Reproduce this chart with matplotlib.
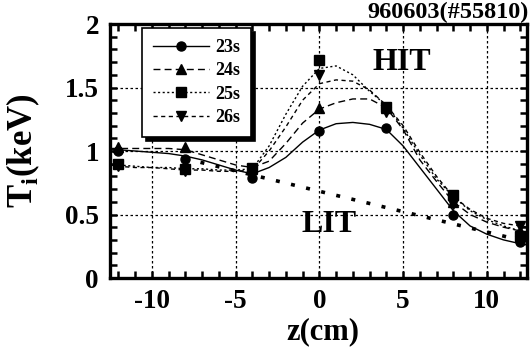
import matplotlib
matplotlib.use("Agg")
import matplotlib.pyplot as plt
from matplotlib.ticker import MultipleLocator

plt.rcParams['font.family'] = ['Liberation Serif', 'DejaVu Serif']
plt.rcParams['font.weight'] = 'bold'
plt.rcParams['axes.unicode_minus'] = False
plt.rcParams['mathtext.fontset'] = 'custom'
plt.rcParams['mathtext.bf'] = 'Liberation Serif:bold'
plt.rcParams['mathtext.rm'] = 'Liberation Serif:bold'

# measured ion temperature at each chord position
z_meas = [-12, -8, -4, 0, 4, 8, 12]
ti_23 = [1.00, 0.94, 0.79, 1.16, 1.18, 0.50, 0.28]
ti_24 = [1.03, 1.03, 0.86, 1.34, 1.34, 0.60, 0.37]
ti_25 = [0.90, 0.86, 0.87, 1.72, 1.35, 0.65, 0.33]
ti_26 = [0.88, 0.84, 0.86, 1.60, 1.31, 0.58, 0.41]

# fitted profiles
z_fit = [-12.5, -12, -11, -10, -9, -8, -7, -6, -5, -4, -3, -2, -1, 0,
         1, 2, 3, 4, 5, 6, 7, 8, 9, 10, 11, 12, 12.4]
fit_23 = [1.01, 1.01, 1.00, 0.99, 0.98, 0.96, 0.93, 0.89, 0.85, 0.82, 0.87,
          0.95, 1.07, 1.165, 1.215, 1.225, 1.21, 1.17, 1.04, 0.87, 0.70,
          0.53, 0.41, 0.345, 0.30, 0.27, 0.26]
fit_24 = [1.02, 1.02, 1.02, 1.02, 1.02, 1.01, 0.97, 0.93, 0.89, 0.87, 0.92,
          1.06, 1.22, 1.33, 1.38, 1.41, 1.41, 1.34, 1.17, 0.93, 0.76,
          0.60, 0.50, 0.44, 0.40, 0.37, 0.36]
fit_25 = [0.90, 0.89, 0.88, 0.87, 0.87, 0.86, 0.86, 0.85, 0.85, 0.86, 1.04,
          1.29, 1.51, 1.65, 1.67, 1.60, 1.47, 1.36, 1.18, 0.97, 0.78,
          0.64, 0.53, 0.46, 0.41, 0.37, 0.36]
fit_26 = [0.89, 0.88, 0.87, 0.87, 0.86, 0.85, 0.85, 0.84, 0.84, 0.85, 1.00,
          1.19, 1.40, 1.53, 1.56, 1.55, 1.48, 1.36, 1.20, 0.99, 0.80,
          0.64, 0.54, 0.47, 0.43, 0.41, 0.40]

# low ion temperature reference profile
z_lit = [-8.0, 12.4]
ti_lit = [0.94, 0.285]

labels = ['23s', '24s', '25s', '26s']
markers = ['o', '^', 's', 'v']
styles = ['-', (0, (5, 3)), (0, (1.5, 1.8)), (0, (3, 2.5))]
meas = [ti_23, ti_24, ti_25, ti_26]
fits = [fit_23, fit_24, fit_25, fit_26]

fig = plt.figure(figsize=(5.31, 3.47), dpi=100)
ax = fig.add_axes([0.2072, 0.1988, 0.7853, 0.732])

ax.set_xlim(-12.5, 12.4)
ax.set_ylim(0, 2)

ax.grid(True, which='major', color='black', linestyle=(0, (2, 2)), linewidth=0.9)

ax.plot(z_lit, ti_lit, color='black', linewidth=2.6,
        linestyle=(0, (1.1, 3.2)), dash_capstyle='butt', zorder=2)

handles = []
for lab, mk, ls, y_m, y_f in zip(labels, markers, styles, meas, fits):
    ax.plot(z_fit, y_f, color='black', linewidth=1.0, linestyle=ls, zorder=3)
    ax.plot(z_meas, y_m, color='black', linestyle='none', marker=mk,
            markersize=6.5, zorder=4)
    h, = ax.plot([], [], color='black', linewidth=1.0, linestyle=ls,
                 marker=mk, markersize=6.5, label=lab)
    handles.append(h)

ax.xaxis.set_major_locator(MultipleLocator(5))
ax.xaxis.set_minor_locator(MultipleLocator(1))
ax.yaxis.set_minor_locator(MultipleLocator(0.1))
ax.set_yticks([0, 0.5, 1, 1.5, 2])
ax.set_yticklabels(['0', '0.5', '1', '1.5', '2'])

ax.tick_params(which='both', direction='in', top=True, right=True,
               length=5, width=1.8, labelsize=19.5, pad=8)
for lbl in ax.get_xticklabels() + ax.get_yticklabels():
    lbl.set_fontweight('bold')
for sp in ax.spines.values():
    sp.set_linewidth(2.4)

ax.set_xlabel('z(cm)', fontsize=22, fontweight='bold')
ax.xaxis.set_label_coords(0.51, -0.155)
ax.set_ylabel(r'T$_{\mathbf{i}}$(keV)', fontsize=25, fontweight='bold')
ax.yaxis.set_label_coords(-0.163, 0.5)

leg = ax.legend(handles=handles, loc='upper left', bbox_to_anchor=(0.077, 0.984),
                borderaxespad=0.0,
                frameon=True, fancybox=False, edgecolor='black',
                prop={'size': 13, 'weight': 'bold'}, handlelength=3.1,
                labelspacing=0.35, borderpad=0.6, handletextpad=0.35,
                shadow={'ox': 3, 'oy': -3, 'shade': 1.0, 'alpha': 1})
leg.get_frame().set_linewidth(1.2)

ax.text(4.9, 1.7, 'HIT', fontsize=23, fontweight='bold', ha='center', va='center')
ax.text(0.6, 0.42, 'LIT', fontsize=23, fontweight='bold', ha='center', va='center')
fig.text(0.995, 0.995, '960603(#55810)', fontsize=17.5, fontweight='bold',
         ha='right', va='top')

fig.savefig('out.png', dpi=100)
